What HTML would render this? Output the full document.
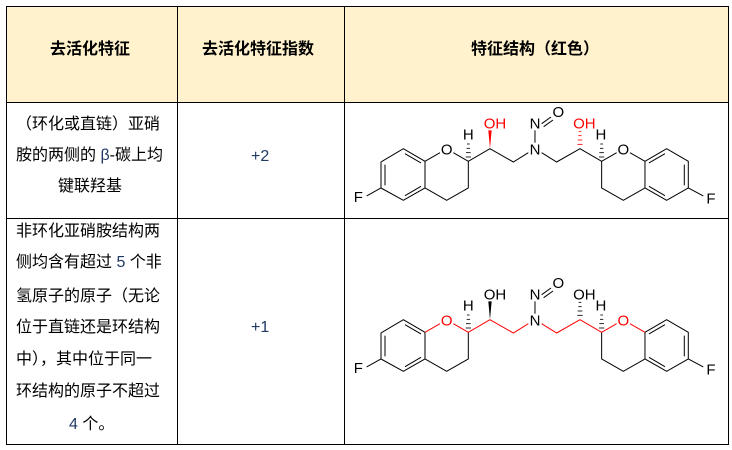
<!DOCTYPE html>
<html><head><meta charset="utf-8"><style>
body{margin:0;width:732px;height:450px;background:#fff;position:relative;overflow:hidden;font-family:"Liberation Sans","Noto Sans CJK SC",sans-serif;}
.t{position:absolute;font-size:16px;color:#000;white-space:nowrap;line-height:18px;}
.h{font-weight:bold;font-size:16px;}
.b{color:#1f3864}
</style></head><body>
<svg width="732" height="450" style="position:absolute;left:0;top:0">
<rect x="7" y="6" width="722" height="97" fill="#fff2cc"/>
<g stroke="#000" stroke-width="1" fill="none">
<rect x="6.5" y="6.5" width="722" height="438"/>
<line x1="6" y1="102.5" x2="729" y2="102.5"/>
<line x1="6" y1="218.5" x2="729" y2="218.5"/>
<line x1="177.5" y1="6" x2="177.5" y2="445"/>
<line x1="344.5" y1="6" x2="344.5" y2="445"/>
</g>
<defs>
<g id="base" stroke="#000" stroke-width="3" fill="none">
<polygon points="175,140 240,178 240,258 175,295 108,258 108,180"/>
<line x1="120" y1="188" x2="120" y2="250"/><line x1="180" y1="155" x2="228" y2="183"/><line x1="180" y1="281" x2="228" y2="253"/>
<line x1="108" y1="258" x2="65" y2="282"/>
<polyline points="370,178 370,258 305,295 240,258"/>
<polygon points="900,178 965,140 1030,178 1030,258 965,295 900,258"/>
<line x1="1018" y1="188" x2="1018" y2="250"/><line x1="960" y1="155" x2="912" y2="183"/><line x1="960" y1="281" x2="912" y2="253"/>
<line x1="1030" y1="258" x2="1075" y2="282"/>
<polyline points="770,178 770,258 835,295 900,258"/>
<line x1="570" y1="122" x2="570" y2="85"/>
<line x1="590" y1="65" x2="618" y2="45"/><line x1="596" y1="74" x2="624" y2="54"/>
<g stroke-width="2.5"><line x1="362" y1="165" x2="378" y2="165"/><line x1="363" y1="152" x2="377" y2="152"/><line x1="365" y1="139" x2="375" y2="139"/><line x1="366" y1="126" x2="374" y2="126"/>
<line x1="762" y1="165" x2="778" y2="165"/><line x1="763" y1="152" x2="777" y2="152"/><line x1="765" y1="139" x2="775" y2="139"/><line x1="766" y1="126" x2="774" y2="126"/></g>
</g>
<g id="txt" font-family="Liberation Sans,sans-serif" font-size="45" text-anchor="middle">
<text x="40" y="300">F</text><text x="1098" y="305">F</text>
<text x="570" y="158">N</text><text x="570" y="80">N</text><text x="640" y="45">O</text>
<text x="370" y="112">H</text><text x="768" y="112">H</text>
</g>
</defs>
<g transform="translate(345,102) scale(0.3333)">
<use href="#base"/><use href="#txt"/>
<g stroke="#000" stroke-width="3" fill="none">
<polyline points="240,178 285,152"/><polyline points="325,152 370,178 435,140 505,180 550,152"/>
<polyline points="590,152 635,180 705,140 770,178 815,152"/><line x1="855" y1="152" x2="900" y2="178"/>
</g>
<polygon points="435,140 430,85 440,85" fill="#f00"/>
<g stroke="#f00" stroke-width="2.5"><line x1="697" y1="127" x2="713" y2="127"/><line x1="698" y1="114" x2="712" y2="114"/><line x1="700" y1="101" x2="710" y2="101"/><line x1="701" y1="88" x2="709" y2="88"/></g>
<g font-family="Liberation Sans,sans-serif" font-size="45" text-anchor="middle">
<text x="305" y="158">O</text><text x="835" y="158">O</text>
<text x="450" y="80" fill="#f00">OH</text><text x="718" y="80" fill="#f00">OH</text>
</g>
</g>
<g transform="translate(345,273) scale(0.3333)">
<use href="#base"/><use href="#txt"/>
<g stroke="#f00" stroke-width="3" fill="none">
<polyline points="240,178 285,152"/><polyline points="325,152 370,178 435,140 505,180 550,152"/>
<polyline points="590,152 635,180 705,140 770,178 815,152"/><line x1="855" y1="152" x2="900" y2="178"/>
</g>
<polygon points="435,140 430,85 440,85" fill="#000"/>
<g stroke="#000" stroke-width="2.5"><line x1="697" y1="127" x2="713" y2="127"/><line x1="698" y1="114" x2="712" y2="114"/><line x1="700" y1="101" x2="710" y2="101"/><line x1="701" y1="88" x2="709" y2="88"/></g>
<g font-family="Liberation Sans,sans-serif" font-size="45" text-anchor="middle">
<text x="305" y="158" fill="#f00">O</text><text x="835" y="158" fill="#f00">O</text>
<text x="450" y="80">OH</text><text x="718" y="80">OH</text>
</g>
</g>
</svg>
<div class="t h" style="left:50px;top:41px">去活化特征</div>
<div class="t h" style="left:202px;top:41px">去活化特征指数</div>
<div class="t h" style="left:471px;top:41px">特征结构（红色）</div>
<div class="t" style="left:16px;top:116px">（环化或直链）亚硝</div>
<div class="t" style="left:16px;top:147px">胺的两侧的 <span class="b">β</span>-碳上均</div>
<div class="t" style="left:58px;top:178px">键联羟基</div>
<div class="t b" style="left:251px;top:148px">+2</div>
<div class="t" style="left:16px;top:223px">非环化亚硝胺结构两</div>
<div class="t" style="left:16px;top:254px">侧均含有超过 <span class="b">5</span> 个非</div>
<div class="t" style="left:16px;top:288px">氢原子的原子（无论</div>
<div class="t" style="left:16px;top:319px">位于直链还是环结构</div>
<div class="t" style="left:16px;top:351px">中），其中位于同一</div>
<div class="t" style="left:16px;top:383px">环结构的原子不超过</div>
<div class="t" style="left:69px;top:416px"><span class="b">4</span> 个。</div>
<div class="t b" style="left:251px;top:319px">+1</div>
</body></html>
